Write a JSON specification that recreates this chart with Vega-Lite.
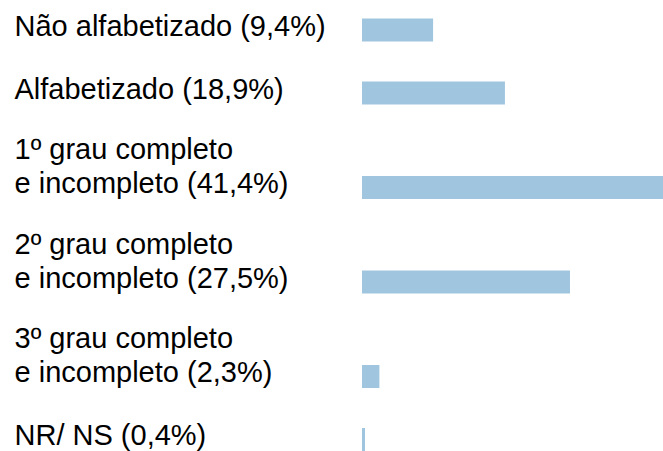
{
  "$schema": "https://vega.github.io/schema/vega-lite/v6.json",
  "autosize": {"type": "none"},
  "padding": {"left": 362, "top": 0, "right": 0, "bottom": 0},
  "width": 301,
  "height": 451,
  "background": "white",
  "config": {"view": {"stroke": null}},
  "data": {
    "values": [
      {"categoria": "Não alfabetizado (9,4%)", "pct": 9.4},
      {"categoria": "Alfabetizado (18,9%)", "pct": 18.9},
      {"categoria": "1º grau completo|e incompleto (41,4%)", "pct": 41.4},
      {"categoria": "2º grau completo|e incompleto (27,5%)", "pct": 27.5},
      {"categoria": "3º grau completo|e incompleto (2,3%)", "pct": 2.3},
      {"categoria": "NR/ NS (0,4%)", "pct": 0.4}
    ]
  },
  "mark": {"type": "bar", "color": "#9fc6de", "clip": true},
  "encoding": {
    "x": {
      "field": "pct",
      "type": "quantitative",
      "scale": {"domain": [0, 39.8], "nice": false, "zero": true},
      "axis": null
    },
    "y": {
      "field": "categoria",
      "type": "nominal",
      "scale": {
        "type": "band",
        "domain": [
          "Não alfabetizado (9,4%)", "_a",
          "Alfabetizado (18,9%)", "_b", "_c",
          "1º grau completo|e incompleto (41,4%)", "_d", "_e",
          "2º grau completo|e incompleto (27,5%)", "_f", "_g",
          "3º grau completo|e incompleto (2,3%)", "_h",
          "NR/ NS (0,4%)"
        ],
        "paddingInner": 0.27,
        "paddingOuter": 0.294,
        "align": 1
      },
      "axis": {
        "title": null,
        "values": [
          "Não alfabetizado (9,4%)",
          "Alfabetizado (18,9%)",
          "1º grau completo|e incompleto (41,4%)",
          "2º grau completo|e incompleto (27,5%)",
          "3º grau completo|e incompleto (2,3%)",
          "NR/ NS (0,4%)"
        ],
        "labelExpr": "split(datum.label, '|')",
        "domain": false,
        "ticks": false,
        "grid": false,
        "labelAlign": "left",
        "labelBaseline": "bottom",
        "labelPadding": 348,
        "labelOffset": {"condition": {"test": "indexof(datum.value, '|') >= 0", "value": -22.5}, "value": 11.5},
        "labelFont": "Liberation Sans",
        "labelFontSize": 29,
        "labelLineHeight": 34,
        "labelColor": "#000000",
        "labelLimit": 500,
        "labelOverlap": false
      }
    }
  }
}
